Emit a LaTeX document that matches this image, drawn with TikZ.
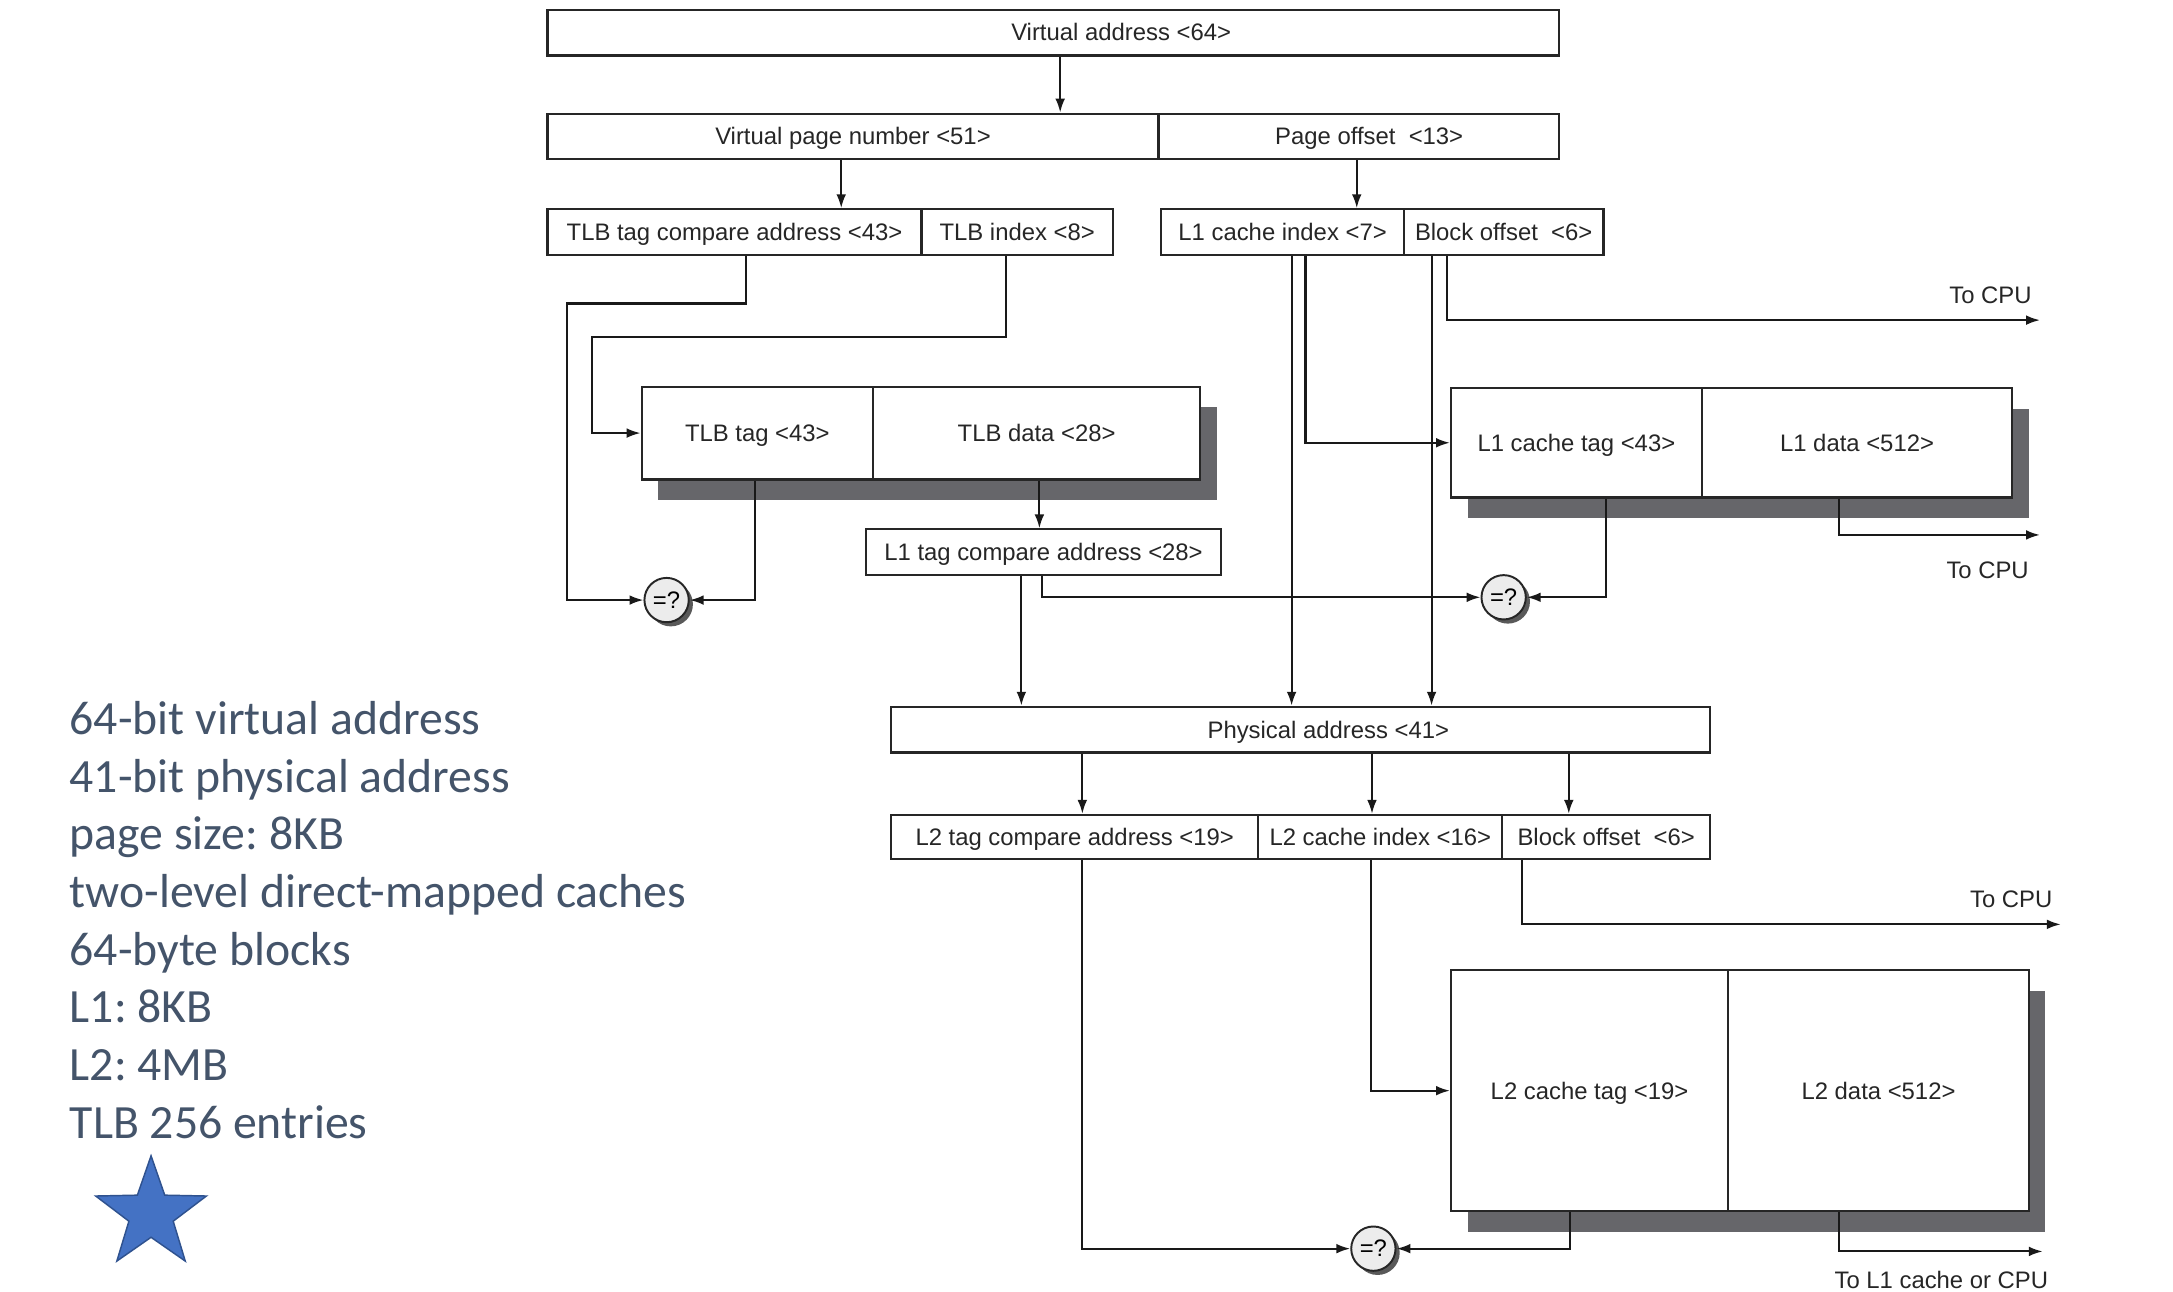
\documentclass[tikz,border=0pt]{standalone}
\usepackage{fontspec}
\setmainfont{Liberation Sans}
\newfontfamily\notefont{Carlito}
\usetikzlibrary{arrows.meta,positioning,shapes.geometric,shadows}
\definecolor{NoteSlate}{RGB}{68,84,106}
\definecolor{StarBlue}{RGB}{68,114,196}
\definecolor{StarEdge}{RGB}{47,82,143}
\definecolor{ShadowGray}{RGB}{102,102,106}
\newcommand{\figfont}{\fontsize{9.8}{11}\selectfont}
\frenchspacing

\begin{document}
\begin{tikzpicture}[x=0.02cm, y=-0.02cm,
  field/.style={draw=black!85, line width=0.9pt, fill=white, inner sep=0pt,
    minimum height=0.66cm, text height=1.55ex, text depth=0.25ex, font=\figfont, text=black!85},
  store/.style={field, drop shadow={shadow xshift=0.24cm, shadow yshift=-0.3cm,
    fill=ShadowGray, opacity=1}},
  cmp/.style={circle, draw=black!85, line width=0.8pt, fill=gray!15, minimum size=0.64cm,
    inner sep=0pt, font=\figfont, drop shadow={shadow xshift=0.06cm, shadow yshift=-0.06cm,
    fill=black!65, opacity=1}},
  wire/.style={-{Latex[length=2mm, width=1.4mm]}, line width=0.85pt, draw=black!90},
  cpulbl/.style={font=\figfont, text=black!85, inner sep=1pt},
  note/.style={font=\notefont\fontsize{19.6}{24}\selectfont, text=NoteSlate, inner sep=0pt}
]
\useasboundingbox (0,0) rectangle (1568,932);

% virtual address and its split
\node[field, minimum width=14.6cm] (va) at (760,23.5) {\hspace*{1.96cm}Virtual address <64>};
\node[field, minimum width=8.82cm] (vpn) at (615.5,98.5) {Virtual page number <51>};
\node[field, minimum width=5.78cm] (po) at (980.5,98.5) {\hspace*{0.3cm}Page offset\ \ <13>};

\node[field, minimum width=5.4cm] (tlbcmp) at (530,167.5) {TLB tag compare address <43>};
\node[field, minimum width=2.76cm] (tlbidx) at (734,167.5) {TLB index <8>};
\node[field, minimum width=3.5cm] (l1idx) at (925.5,167.5) {L1 cache index <7>};
\node[field, minimum width=2.88cm] (l1off) at (1085,167.5) {Block offset\ \ <6>};

% TLB and L1
\node[store, minimum width=3.34cm, minimum height=1.34cm] (tlbtag) at (546.5,312.5) {TLB tag <43>};
\node[store, minimum width=4.72cm, minimum height=1.34cm] (tlbdata) at (748,312.5) {TLB data <28>};
\node[field, minimum width=5.12cm] (l1cmp) at (753,398.5) {L1 tag compare address <28>};

\node[store, minimum width=3.62cm, minimum height=1.58cm] (l1tag) at (1137.5,319.5) {L1 cache tag <43>};
\node[store, minimum width=4.48cm, minimum height=1.58cm] (l1data) at (1340,319.5) {L1 data <512>};

\node[cmp] (cmptlb) at (481,433) {=?};
\node[cmp] (cmpl1) at (1085,431) {=?};

% physical address and L2
\node[field, minimum width=11.82cm] (pa) at (938.5,526.5) {\hspace*{0.8cm}Physical address <41>};
\node[field, minimum width=5.3cm, minimum height=0.64cm] (l2cmp) at (775.5,604) {L2 tag compare address <19>};
\node[field, minimum width=3.52cm, minimum height=0.64cm] (l2idx) at (996,604) {L2 cache index <16>};
\node[field, minimum width=3.0cm, minimum height=0.64cm] (l2off) at (1159,604) {Block offset\ \ <6>};

\node[store, minimum width=4.0cm, minimum height=3.48cm] (l2tag) at (1147,787) {L2 cache tag <19>};
\node[store, minimum width=4.34cm, minimum height=3.48cm] (l2data) at (1355.5,787) {L2 data <512>};
\node[cmp] (cmpl2) at (991,901) {=?};

% connectors
\draw[wire] (765,0 |- va.south) -- (765,0 |- vpn.north);
\draw[wire] (607,0 |- vpn.south) -- (607,0 |- tlbcmp.north);
\draw[wire] (979,0 |- po.south) -- (979,0 |- l1idx.north);

\draw[wire] (538,0 |- tlbcmp.south) |- (409,219) |- (cmptlb.west);
\draw[wire] (726,0 |- tlbidx.south) |- (427,243) |- (tlbtag.west);
\draw[wire] (545,0 |- tlbtag.south) |- (cmptlb.east);
\draw[wire] (750,0 |- tlbdata.south) -- (750,0 |- l1cmp.north);
\draw[wire] (752,0 |- l1cmp.south) |- (cmpl1.west);
\draw[wire] (737,0 |- l1cmp.south) -- (737,0 |- pa.north);

\draw[wire] (932,0 |- l1idx.south) -- (932,0 |- pa.north);
\draw[wire] (942,0 |- l1idx.south) |- (l1tag.west);
\draw[wire] (1033,0 |- l1off.south) -- (1033,0 |- pa.north);
\draw[wire] (1044,0 |- l1off.south) |- (1472,231) coordinate (cpuA);
\node[cpulbl, anchor=south east] (cpuAlbl) at (1468,221) {To CPU};

\draw[wire] (1159,0 |- l1tag.south) |- (cmpl1.east);
\draw[wire] (1327,0 |- l1data.south) |- (1472,386) coordinate (cpuB);
\node[cpulbl, anchor=north east] (cpuBlbl) at (1466,403) {To CPU};

\draw[wire] (781,0 |- pa.south) -- (781,0 |- l2cmp.north);
\draw[wire] (990,0 |- pa.south) -- (990,0 |- l2idx.north);
\draw[wire] (1132,0 |- pa.south) -- (1132,0 |- l2off.north);

\draw[wire] (781,0 |- l2cmp.south) |- (cmpl2.west);
\draw[wire] (989,0 |- l2idx.south) |- (l2tag.west);
\draw[wire] (1098,0 |- l2off.south) |- (1487,667) coordinate (cpuC);
\node[cpulbl, anchor=south east] (cpuClbl) at (1483,657) {To CPU};
\draw[wire] (1133,0 |- l2tag.south) |- (cmpl2.east);
\draw[wire] (1327,0 |- l2data.south) |- (1474,903) coordinate (cpuD);
\node[cpulbl, anchor=north east] (cpuDlbl) at (1480,915) {To L1 cache or CPU};

% notes
\foreach \txt [count=\i from 0] in {64-bit virtual address, 41-bit physical address,
    page size: 8KB, two-level direct-mapped caches, 64-byte blocks, L1: 8KB, L2: 4MB,
    TLB 256 entries}
  \node[note, anchor=base west] (note\i) at (50,530+41.6*\i) {\txt};
\node[star, star points=5, star point ratio=2.5, minimum size=1.68cm, inner sep=0pt,
  fill=StarBlue, draw=StarEdge, line width=0.6pt] (star) at (109,876) {};
\end{tikzpicture}
\end{document}
